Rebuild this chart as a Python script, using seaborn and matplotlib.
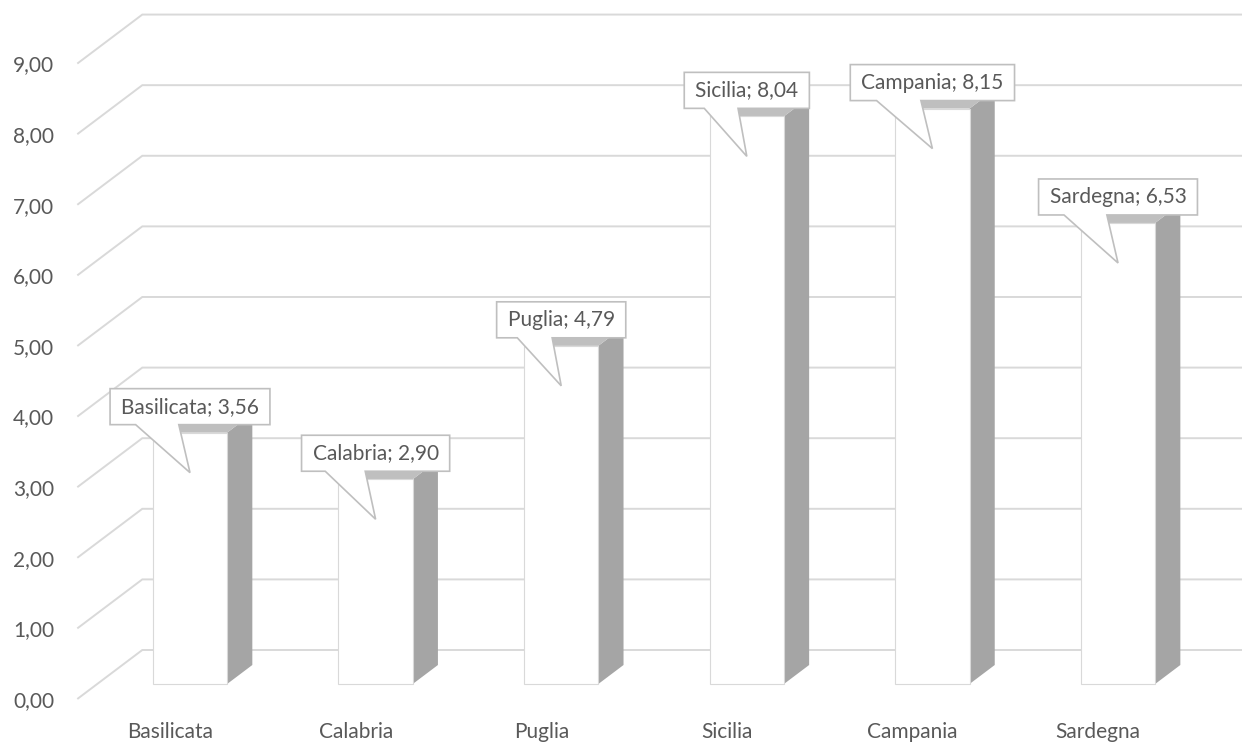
import matplotlib
matplotlib.use("Agg")
import matplotlib.pyplot as plt
import matplotlib.transforms as mtransforms
from matplotlib.patches import Polygon
import seaborn as sns
import pandas as pd

# Data
regions = ["Basilicata", "Calabria", "Puglia", "Sicilia", "Campania", "Sardegna"]
values = [3.56, 2.90, 4.79, 8.04, 8.15, 6.53]
y_ticks = [0, 1, 2, 3, 4, 5, 6, 7, 8, 9]
tick_labels = [f"{t:.2f}".replace(".", ",") for t in y_ticks]

sns.set_theme(style="white")
plt.rcParams["font.family"] = ["Lato", "DejaVu Sans"]

TEXT = "#595959"
GRID = "#d9d9d9"
SIDE = "#a5a5a5"
TOP = "#bfbfbf"
EDGE = "#d9d9d9"
FS = 15

DPI = 100
fig = plt.figure(figsize=(12.42, 7.42), dpi=DPI)
ax = fig.add_axes([0, 0, 1, 1])

df = pd.DataFrame({"regione": regions, "valore": values})
sns.barplot(data=df, x="regione", y="valore", ax=ax, color="white",
            saturation=1, width=0.4, edgecolor=EDGE, linewidth=0.8,
            errorbar=None, zorder=3)
ax.set_xlim(-1.0237, 5.668)
ax.set_ylim(-0.8215, 9.688)
ax.axis("off")

# oblique projection: depth z (pixels upward) moves points right by z*SLANT
SLANT = 65 / 49
Z_FRONT, Z_BAR, Z_WALL = -15, 19, 34


def px_to_data(dx, dy):
    inv = ax.transData.inverted()
    p0 = inv.transform((0, 0))
    p1 = inv.transform((dx, dy))
    return p1 - p0


def shifted(x, y, z):
    d = px_to_data(z * SLANT, z)
    return (x + d[0], y + d[1])


# gridlines: side wall diagonal + back wall horizontal
n = len(regions)
for t in y_ticks:
    pts = [shifted(-0.5, t, Z_FRONT), shifted(-0.5, t, Z_WALL),
           shifted(n - 0.5, t, Z_WALL)]
    xs, ys = zip(*pts)
    ax.plot(xs, ys, color=GRID, lw=1.4, zorder=1, solid_capstyle="butt",
            solid_joinstyle="miter", clip_on=False)

# side and top faces of the columns
for patch in list(ax.patches):
    x0, w, h = patch.get_x(), patch.get_width(), patch.get_height()
    x1 = x0 + w
    side = [(x1, 0), (x1, h), shifted(x1, h, Z_BAR), shifted(x1, 0, Z_BAR)]
    top = [(x0, h), (x1, h), shifted(x1, h, Z_BAR), shifted(x0, h, Z_BAR)]
    ax.add_patch(Polygon(side, closed=True, facecolor=SIDE, edgecolor="none", zorder=2))
    ax.add_patch(Polygon(top, closed=True, facecolor=TOP, edgecolor="none", zorder=2))

# value axis labels on the front edge
for t, lab in zip(y_ticks, tick_labels):
    ax.annotate(lab, xy=shifted(-0.5, t, Z_FRONT), xytext=(-23, -2),
                textcoords="offset pixels", ha="right", va="center",
                fontsize=FS, color=TEXT)

# category labels on the front edge
for i, r in enumerate(regions):
    ax.annotate(r, xy=shifted(i, 0, Z_FRONT), xytext=(0, -33),
                textcoords="offset pixels", ha="center", va="center",
                fontsize=FS, color=TEXT)

# callout data labels
renderer = fig.canvas.get_renderer()
for i, (r, v) in enumerate(zip(regions, values)):
    label = f"{r}; {v:.2f}".replace(".", ",")
    txt = ax.annotate(label, xy=(i, v), xytext=(0, 26), textcoords="offset pixels",
                      ha="center", va="center", fontsize=FS, color=TEXT, zorder=6)
    tw = txt.get_window_extent(renderer).width
    W = tw + 22
    hw = W / 2
    b, tp = 8, 44
    verts = [(-hw, tp), (hw, tp), (hw, b), (-hw + 0.43 * W, b), (0, -40),
             (-hw + 0.16 * W, b), (-hw, b)]
    verts = [(vx / DPI, vy / DPI) for vx, vy in verts]
    trans = fig.dpi_scale_trans + mtransforms.ScaledTranslation(i, v, ax.transData)
    ax.add_patch(Polygon(verts, closed=True, facecolor="white", edgecolor="#bfbfbf",
                         lw=1.2, transform=trans, zorder=5, clip_on=False))

fig.savefig("out.png", dpi=DPI, facecolor="white")
